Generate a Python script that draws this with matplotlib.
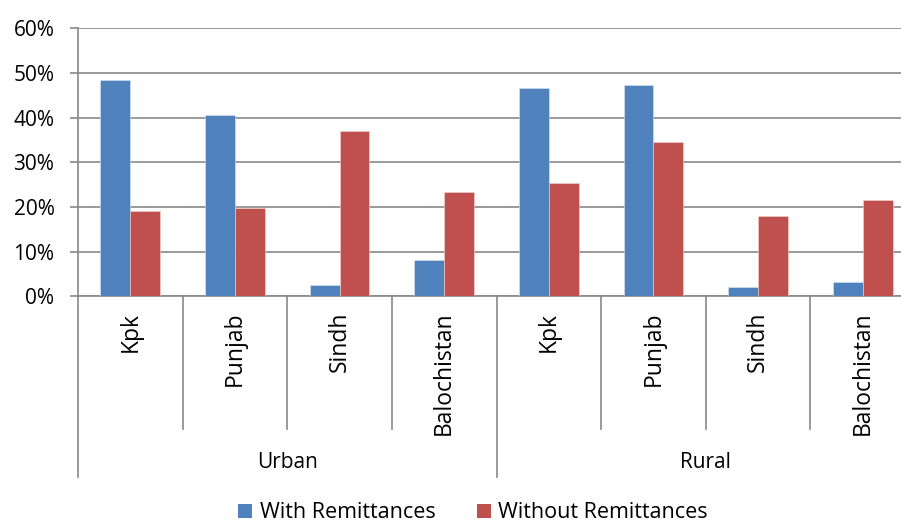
import numpy as np
import matplotlib
matplotlib.use('Agg')
import matplotlib.pyplot as plt
from matplotlib.patches import Patch
from matplotlib.ticker import FuncFormatter

# Data (percent)
groups = ['Urban', 'Rural']
provinces = ['Kpk', 'Punjab', 'Sindh', 'Balochistan']
with_rem = [48.4, 40.7, 2.5, 8.1, 46.6, 47.3, 2.0, 3.2]
without_rem = [19.1, 19.8, 36.9, 23.4, 25.4, 34.5, 18.0, 21.5]
series_names = ['With Remittances', 'Without Remittances']
y_ticks = [0, 10, 20, 30, 40, 50, 60]

blue = '#4F81BD'
red = '#C0504D'
gray = '#898989'
fs = 15

plt.rcParams['font.family'] = ['Open Sans', 'DejaVu Sans']

fig = plt.figure(figsize=(9.01, 5.22), dpi=100)
ax = fig.add_axes([78 / 901, (522 - 296.3) / 522, 837 / 901, 268 / 522])

n = len(with_rem)
x = np.arange(n)
w = 1 / 3.5
ax.bar(x - w / 2, with_rem, w, color=blue, edgecolor='#dfe7f2', linewidth=0.4, zorder=3)
ax.bar(x + w / 2, without_rem, w, color=red, edgecolor='#f0d6d5', linewidth=0.4, zorder=3)

ax.set_xlim(-0.5, n - 0.5)
ax.set_ylim(0, 60)
ax.set_yticks(y_ticks)
ax.yaxis.set_major_formatter(FuncFormatter(lambda v, p: '%d%%' % v))
ax.tick_params(axis='y', length=6, width=1.2, color=gray, pad=11, labelsize=fs)
ax.set_xticks([])
ax.grid(axis='y', color=gray, linewidth=1.2, zorder=0)
for s in ['top', 'right']:
    ax.spines[s].set_visible(False)
for s in ['left', 'bottom']:
    ax.spines[s].set_color(gray)
    ax.spines[s].set_linewidth(1.2)

# Multi-level category axis
tr = ax.get_xaxis_transform()
labels = [p for g in groups for p in provinces]
for i, lab in enumerate(labels):
    ax.text(i, -0.058, lab, transform=tr, rotation=90, ha='center', va='top',
            fontsize=16.5)
for i in range(n + 1):
    b = i - 0.5
    low = -0.674 if i % len(provinces) == 0 else -0.495
    ax.plot([b, b], [0, low], transform=tr, color=gray, linewidth=1.2, clip_on=False)
for gi, g in enumerate(groups):
    cx = gi * len(provinces) + (len(provinces) - 1) / 2
    ax.text(cx, -0.622, g, transform=tr, ha='center', va='center', fontsize=fs)

handles = [Patch(facecolor=blue, edgecolor='none'), Patch(facecolor=red, edgecolor='none')]
fig.legend(handles, series_names, loc='center', bbox_to_anchor=(473 / 901, 9 / 522),
           ncol=2, frameon=False, fontsize=15.5, handlelength=0.65, handleheight=0.65,
           handletextpad=0.35, columnspacing=1.9, borderpad=0)

fig.savefig('out.png', dpi=100)
